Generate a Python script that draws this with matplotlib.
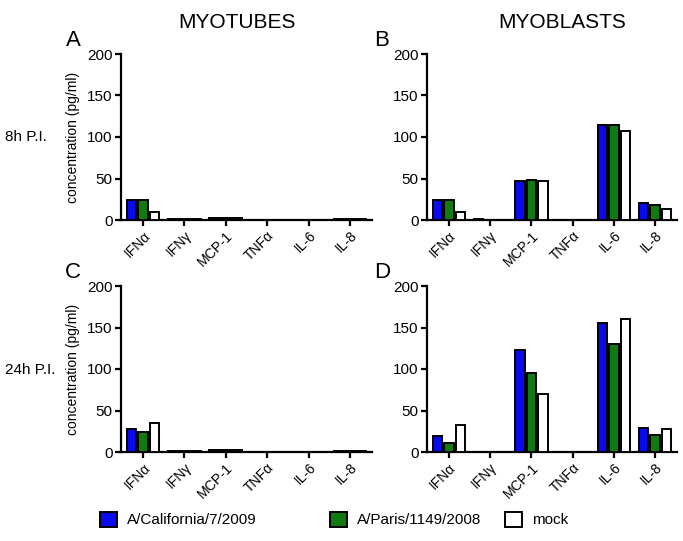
import matplotlib
matplotlib.use("Agg")
import matplotlib.pyplot as plt
from matplotlib.patches import Rectangle
import numpy as np

plt.rcParams['font.family'] = ['Liberation Sans', 'DejaVu Sans']

categories = ["IFNα", "IFNγ", "MCP-1", "TNFα", "IL-6", "IL-8"]
series_names = ["A/California/7/2009", "A/Paris/1149/2008", "mock"]
colors = ["#0a0af0", "#127a12", "#ffffff"]

# Panel A: myotubes 8h
A_cal = [24, 1, 2, 0.5, 0.3, 1]
A_par = [24, 1, 2, 0.5, 0.3, 1]
A_mock = [10, 1, 2, 0.5, 0.3, 1]
# Panel B: myoblasts 8h
B_cal = [24, 1, 47, 0.5, 115, 20]
B_par = [24, 0.5, 48, 0.5, 114, 18]
B_mock = [10, 0.5, 47, 0.5, 107, 13]
# Panel C: myotubes 24h
C_cal = [28, 1, 2, 0.5, 0.3, 1]
C_par = [24, 1, 2, 0.5, 0.3, 1]
C_mock = [35, 1, 2, 0.5, 0.3, 1]
# Panel D: myoblasts 24h
D_cal = [19, 0.5, 123, 0.5, 156, 29]
D_par = [11, 0.5, 95, 0.5, 130, 20]
D_mock = [32, 0.5, 70, 0.5, 160, 28]

yticks = [0, 50, 100, 150, 200]

fig = plt.figure(figsize=(6.83, 5.41), dpi=100)
W, H = 683, 541

def ax_at(x0, x1, ytop, ybot):
    return fig.add_axes([x0 / W, 1 - ybot / H, (x1 - x0) / W, (ybot - ytop) / H])

axA = ax_at(121, 372, 54, 220)
axB = ax_at(427, 677, 54, 220)
axC = ax_at(121, 372, 286, 452)
axD = ax_at(427, 677, 286, 452)

panels = [
    (axA, [A_cal, A_par, A_mock], True),
    (axB, [B_cal, B_par, B_mock], False),
    (axC, [C_cal, C_par, C_mock], True),
    (axD, [D_cal, D_par, D_mock], False),
]

x = np.arange(len(categories))
width = 0.23
offs = [-0.28, 0.0, 0.28]
for ax, data, ylab in panels:
    for vals, c, o in zip(data, colors, offs):
        ax.bar(x + o, vals, width, color=c, edgecolor="black", linewidth=1.4, zorder=3)
    ax.set_xlim(-0.53, 5.53)
    ax.set_ylim(0, 200)
    ax.set_yticks(yticks)
    ax.set_yticklabels([str(t) for t in yticks], fontsize=11)
    ax.set_xticks(x)
    ax.set_xticklabels(categories, rotation=45, ha="right", rotation_mode="anchor",
                       fontsize=10)
    for s in ["top", "right"]:
        ax.spines[s].set_visible(False)
    for s in ["left", "bottom"]:
        ax.spines[s].set_linewidth(1.6)
    ax.tick_params(axis="both", direction="out", width=1.6, length=4, pad=2)
    if ylab:
        ax.set_ylabel("concentration (pg/ml)", fontsize=10, labelpad=5)

fig.text(237 / W, 1 - 22 / H, "MYOTUBES", ha="center", va="center", fontsize=15)
fig.text(562 / W, 1 - 22 / H, "MYOBLASTS", ha="center", va="center", fontsize=15)
fig.text(73 / W, 1 - 40 / H, "A", ha="center", va="center", fontsize=16)
fig.text(382 / W, 1 - 40 / H, "B", ha="center", va="center", fontsize=16)
fig.text(73 / W, 1 - 272 / H, "C", ha="center", va="center", fontsize=16)
fig.text(382 / W, 1 - 272 / H, "D", ha="center", va="center", fontsize=16)
fig.text(5 / W, 1 - 137 / H, "8h P.I.", ha="left", va="center", fontsize=11)
fig.text(5 / W, 1 - 370 / H, "24h P.I.", ha="left", va="center", fontsize=11)

# Legend entries placed like the reference
leg_x = [100, 330, 505]
for hx, c, n in zip(leg_x, colors, series_names):
    fig.patches.append(Rectangle((hx / W, 1 - 527 / H), 17 / W, 15 / H,
                                 facecolor=c, edgecolor="black", linewidth=1.4,
                                 transform=fig.transFigure, figure=fig))
    fig.text((hx + 27) / W, 1 - 519.5 / H, n, ha="left", va="center", fontsize=11)

fig.savefig("out.png", dpi=100)
